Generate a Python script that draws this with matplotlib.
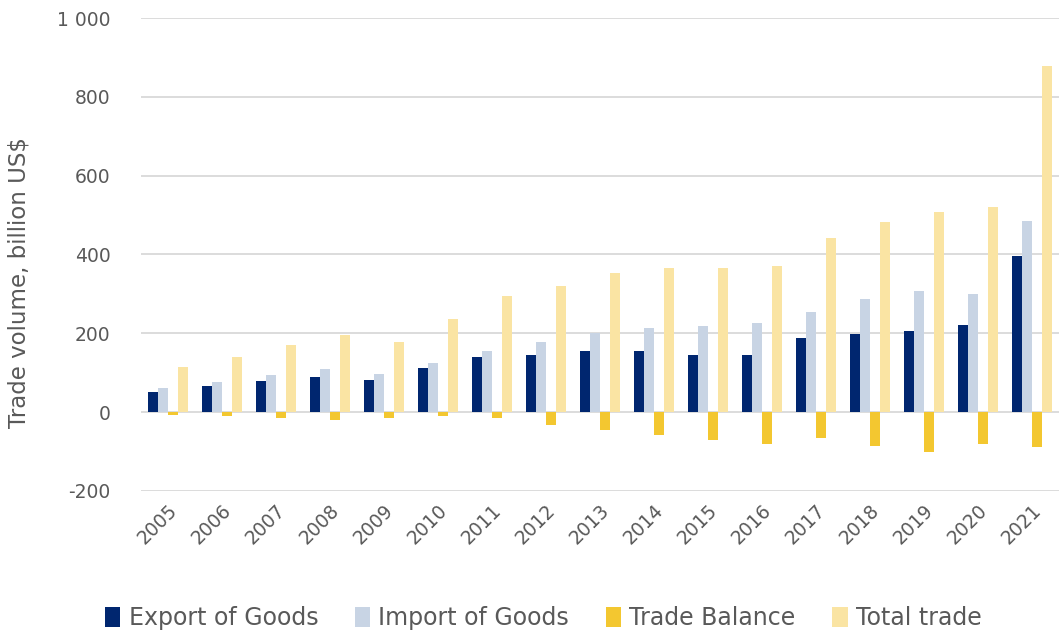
import numpy as np
import matplotlib
matplotlib.use("Agg")
import matplotlib.pyplot as plt
from matplotlib.ticker import FuncFormatter

years = [str(y) for y in range(2005, 2022)]
exports = [51, 66, 79, 88, 82, 113, 140, 144, 154, 156, 146, 145, 188, 199, 205, 220, 395]
imports = [62, 76, 95, 109, 96, 124, 155, 178, 200, 213, 218, 225, 255, 287, 307, 299, 485]
balance = [-8, -9, -14, -20, -14, -9, -14, -33, -44, -58, -71, -80, -65, -86, -102, -80, -88]
total = [115, 140, 171, 197, 179, 236, 295, 320, 353, 367, 365, 370, 442, 483, 508, 520, 879]

series = [
    ("Export of Goods", exports, "#00266f"),
    ("Import of Goods", imports, "#c8d4e4"),
    ("Trade Balance", balance, "#f3c730"),
    ("Total trade", total, "#fae4a3"),
]

fig = plt.figure(figsize=(10.59, 6.35), dpi=100)
ax = fig.add_axes([141 / 1059, 1 - 491 / 635, 1 - 141 / 1059, (491 - 18) / 635])

x = np.arange(len(years))
w = 10 / 54
for i, (name, vals, color) in enumerate(series):
    ax.bar(x + (i - 1.5) * w, vals, width=w, color=color, label=name, zorder=3)

ax.set_xlim(-0.5, len(years) - 0.5)
ax.set_ylim(-200, 1000)
ax.set_yticks(range(-200, 1001, 200))
ax.yaxis.set_major_formatter(FuncFormatter(lambda v, p: f"{int(v):,}".replace(",", " ")))
ax.grid(axis="y", color="#d9d9d9", linewidth=1.3, zorder=0)
for s in ax.spines.values():
    s.set_visible(False)
ax.tick_params(length=0, labelcolor="#595959")
ax.tick_params(axis="y", labelsize=13.5, pad=22)
ax.set_xticks(x)
ax.set_xticklabels(years, rotation=45, ha="right", rotation_mode="anchor")
ax.tick_params(axis="x", labelsize=13.5, pad=7)
ax.set_ylabel("Trade volume, billion US$", fontsize=16.5, color="#595959")
ax.yaxis.set_label_coords(-(141 - 31) / 918, 0.44)

leg = fig.legend(loc="center", bbox_to_anchor=(0.513, 1 - 618 / 635), ncol=4, frameon=False,
                 handlelength=0.65, handleheight=0.9, handletextpad=0.35,
                 columnspacing=1.55, prop={"size": 17})
for t in leg.get_texts():
    t.set_color("#595959")

fig.savefig("out.png", dpi=100)
